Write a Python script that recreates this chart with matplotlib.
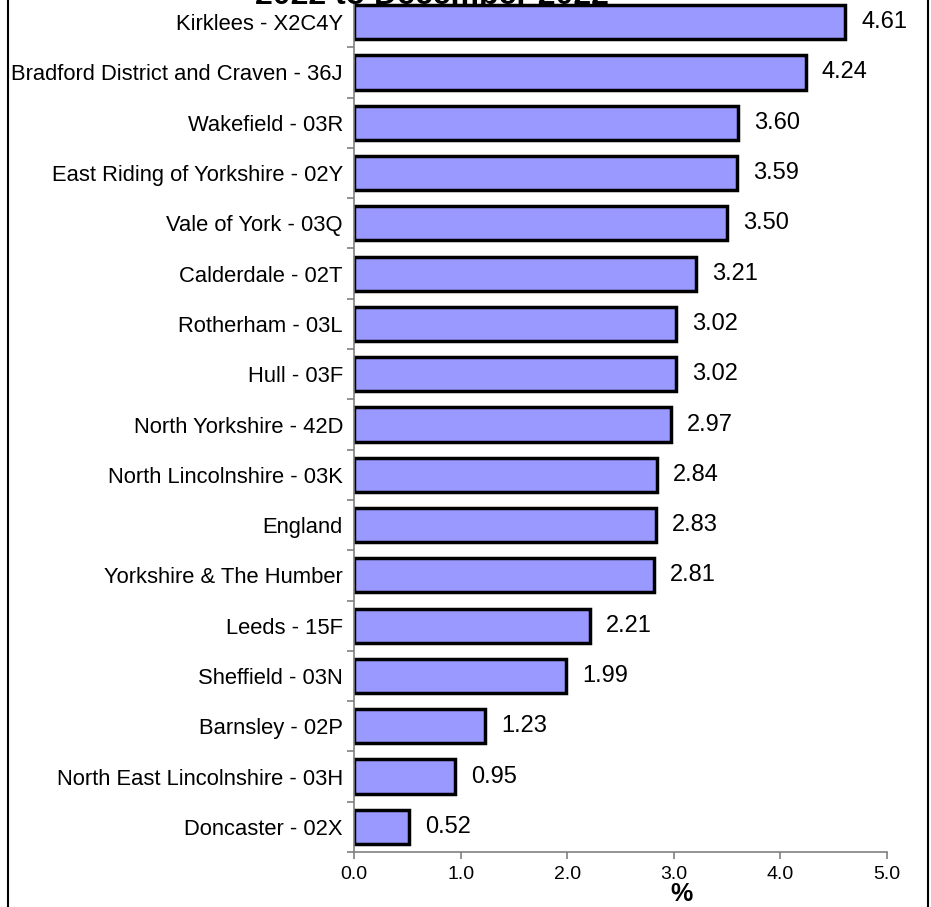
import matplotlib.pyplot as plt
from matplotlib.lines import Line2D

plt.rcParams['font.family'] = ['Liberation Sans', 'DejaVu Sans']

# data, top to bottom
areas = ['Kirklees - X2C4Y', 'Bradford District and Craven - 36J', 'Wakefield - 03R',
         'East Riding of Yorkshire - 02Y', 'Vale of York - 03Q', 'Calderdale - 02T',
         'Rotherham - 03L', 'Hull - 03F', 'North Yorkshire - 42D',
         'North Lincolnshire - 03K', 'England', 'Yorkshire & The Humber',
         'Leeds - 15F', 'Sheffield - 03N', 'Barnsley - 02P',
         'North East Lincolnshire - 03H', 'Doncaster - 02X']
values = [4.61, 4.24, 3.60, 3.59, 3.50, 3.21, 3.02, 3.02, 2.97, 2.84, 2.83, 2.81,
          2.21, 1.99, 1.23, 0.95, 0.52]
xticks = [0.0, 1.0, 2.0, 3.0, 4.0, 5.0]

fig = plt.figure(figsize=(9.31, 9.07), dpi=100)
ax = fig.add_axes([354/931, 1-852/907, (887-354)/931, (852+3)/907])

ypos = list(range(len(areas)))[::-1]
ax.barh(ypos, values, height=0.68, color='#9999ff', edgecolor='black', linewidth=2.5)

for y, v in zip(ypos, values):
    ax.text(v + 0.15, y, f'{v:.2f}', va='center', ha='left', fontsize=17)

ax.set_xlim(0, 5)
ax.set_ylim(-0.5, len(areas) - 0.5)
ax.set_xticks(xticks)
ax.set_xticklabels([f'{t:.1f}' for t in xticks], fontsize=14)
ax.set_yticks(ypos)
ax.set_yticklabels(areas, fontsize=15.8)
ax.tick_params(axis='y', length=0, pad=8)
ax.set_yticks([i + 0.5 for i in range(-1, len(areas))], minor=True)
ax.tick_params(axis='y', which='minor', length=5, color='#808080', width=1.2)
ax.tick_params(axis='x', length=5, color='#808080', width=1.2, pad=5)

# axis title "%" sits a bit right of centre in the original
ax.text(3.07, -0.049, '%', transform=ax.get_xaxis_transform(), ha='center', va='center',
        fontsize=18, fontweight='bold')

for s in ['top', 'right']:
    ax.spines[s].set_visible(False)
for s in ['left', 'bottom']:
    ax.spines[s].set_color('#808080')
    ax.spines[s].set_linewidth(1.2)

# partial title cut at top
fig.text(432/931, 1 - 4/907, '2022 to December 2022', ha='center', va='baseline',
         fontsize=23, fontweight='bold')

# outer chart border (left and right edges visible)
fig.add_artist(Line2D([8/931, 8/931], [0, 1], color='black', lw=1.5))
fig.add_artist(Line2D([928/931, 928/931], [0, 1], color='black', lw=1.5))

fig.savefig('out.png', dpi=100)
